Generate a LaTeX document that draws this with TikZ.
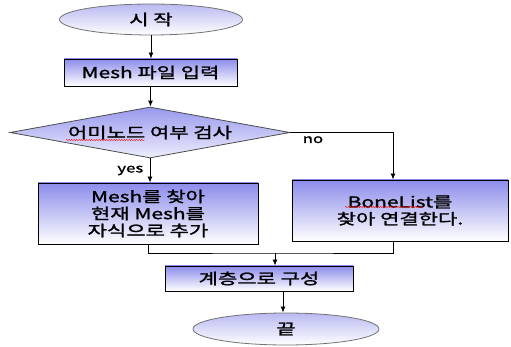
\documentclass[tikz,border=0pt]{standalone}
\usepackage{fontspec}
\setmainfont{Noto Sans CJK KR}[FakeStretch=1.4,FakeBold=1.5]
\usetikzlibrary{shapes.geometric,arrows.meta,shadows,decorations.pathmorphing}
\definecolor{lav}{RGB}{140,140,235}
\definecolor{lavlight}{RGB}{185,185,242}

\begin{document}
\begin{tikzpicture}[x=1pt,y=-1pt,
        font=\fontsize{15}{17}\selectfont,
        box/.style={rectangle,draw=black,line width=0.9pt,top color=lav,bottom color=white,
            drop shadow={shadow xshift=1.2pt,shadow yshift=-1.2pt,opacity=0.8,fill=black!70},
            inner sep=0pt,align=center},
        term/.style={ellipse,draw=black!55,line width=0.8pt,top color=lavlight,bottom color=white,inner sep=0pt},
        decide/.style={diamond,aspect=5.5,draw=black!70,line width=0.8pt,top color=lav!90,bottom color=lav!15,inner sep=0pt},
        arr/.style={-{Latex[length=6pt,width=5pt]},line width=0.9pt},
        squiggle/.style={red,line width=0.4pt,decorate,decoration={snake,amplitude=0.6pt,segment length=2.5pt}}]
    \useasboundingbox (0,0) rectangle (511,347);

    \node[term,minimum width=183pt,minimum height=31pt] (start) at (151,19.5) {시 작};
    \node[box,minimum width=173pt,minimum height=27pt] (input) at (150.5,72.5) {Mesh 파일 입력};
    \node[decide,minimum width=280pt,minimum height=51pt] (check) at (150,132.5) {어미노드 여부 검사};
    \node[box,minimum width=220pt,minimum height=61pt] (addmesh) at (148,213.5) {Mesh를 찾아\\현재 Mesh를\\자식으로 추가};
    \node[box,minimum width=216pt,minimum height=61pt] (bonelist) at (400,210.5) {BoneList를\\찾아 연결한다.};
    \node[box,minimum width=188pt,minimum height=25pt] (layer) at (259,278.5) {계층으로 구성};
    \node[term,minimum width=186pt,minimum height=32pt] (stop) at (286,329) {끝};

    % spelling marks under the unknown words
    \draw[squiggle] (66,140) -- (145,140);
    \draw[squiggle] (345,207) -- (423,207);

    \draw[arr] (start.south) -- (start.south |- input.north);
    \draw[arr] (input.south) -- (input.south |- check.north);
    \draw[arr] (check.south) -- node[left,xshift=-3pt,font=\fontsize{12}{14}\selectfont]{yes} (check.south |- addmesh.north);
    \draw[arr] (check.east) -| node[pos=0.11,below,font=\fontsize{12}{14}\selectfont]{no} ([xshift=-7pt]bonelist.north);

    % both branches meet again
    \coordinate (join) at (275,253);
    \draw[line width=0.9pt] (addmesh.south) |- (join) -| ([xshift=-7pt]bonelist.south);
    \draw[arr] (join) -- (join |- layer.north);
    \draw[arr] ([xshift=24pt]layer.south) -- ([xshift=24pt]layer.south |- stop.north);
\end{tikzpicture}
\end{document}
